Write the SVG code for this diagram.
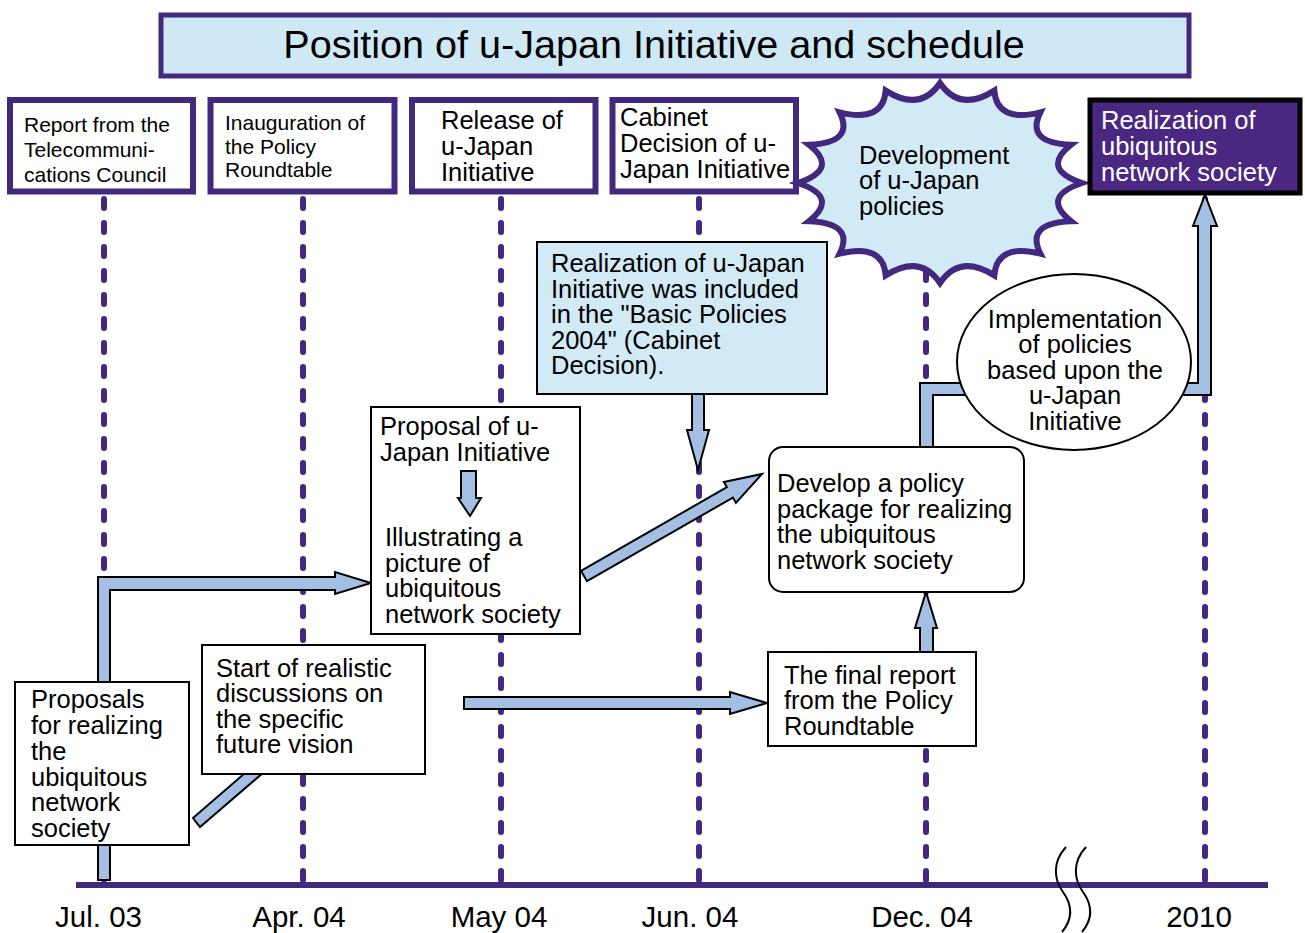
<svg xmlns="http://www.w3.org/2000/svg" width="1305" height="933" viewBox="0 0 1305 933">
<style>
text{font-family:"Liberation Sans",Arial,sans-serif;fill:#000}
.lg{font-size:25.5px}
.sm{font-size:21px}
.dl{font-size:29.5px;text-anchor:middle}
.pbox{fill:#fff;stroke:#43287f;stroke-width:6}
.box{fill:#fff;stroke:#000;stroke-width:2}
.dash{stroke:#43287f;stroke-width:6;stroke-linecap:round;stroke-dasharray:9 15;fill:none}
.arr{fill:#a3c0e4;stroke:#000;stroke-width:2;stroke-linejoin:miter}
.c{text-anchor:middle}
</style>
<rect width="1305" height="933" fill="#fff"/>
<g id="timeline">
<line class="dash" x1="104" y1="199" x2="104" y2="882"/>
<line class="dash" x1="303" y1="199" x2="303" y2="882"/>
<line class="dash" x1="501" y1="199" x2="501" y2="882"/>
<line class="dash" x1="699" y1="199" x2="699" y2="882"/>
<line class="dash" x1="926" y1="199" x2="926" y2="882"/>
<line class="dash" x1="1205" y1="199" x2="1205" y2="882"/>
<line x1="76" y1="885" x2="1268" y2="885" stroke="#43287f" stroke-width="6"/>
<path d="M1066,847 C1052,862 1054,880 1063,892 C1073,906 1072,920 1062,932" fill="none" stroke="#000" stroke-width="2"/>
<path d="M1086,847 C1072,862 1074,880 1083,892 C1093,906 1092,920 1082,932" fill="none" stroke="#000" stroke-width="2"/>
<text class="dl" x="98.5" y="927">Jul. 03</text>
<text class="dl" x="299" y="927">Apr. 04</text>
<text class="dl" x="499" y="927">May 04</text>
<text class="dl" x="690" y="927">Jun. 04</text>
<text class="dl" x="922" y="927">Dec. 04</text>
<text class="dl" x="1199" y="927">2010</text>
</g>
<g id="connectors">
<polygon class="arr" points="98,880 98,577 335,577 335,572 371,583 335,594 335,590 110,590 110,880"/>
<polygon class="arr" points="193,818 260,760 278,760 200,827"/>
<polygon class="arr" points="581,570.8 726.9,487.2 723.9,482 762,474 735.9,502.8 732.9,497.6 587,581.2"/>
<polygon class="arr" points="464,697 730,697 730,692 767,703 730,714 730,709 464,709"/>
<polygon class="arr" points="920,652 920,628 915,628 926,592 937,628 933,628 933,652"/>
<polygon class="arr" points="692,393 692,430 687,430 698,470 709,430 704,430 704,393"/>
<polygon class="arr" points="920,447 920,383 1198,383 1198,226 1193,226 1205,195 1217,226 1211,226 1211,395 933,395 933,447"/>
</g>
<g id="title">
<rect x="161" y="15" width="1028" height="61" fill="#cfe8f6" stroke="#43287f" stroke-width="5"/>
<text x="654" y="58" class="c" style="font-size:39.6px">Position of u-Japan Initiative and schedule</text>
</g>
<g id="n-report">
<rect class="pbox" x="10" y="100" width="183" height="91.5"/>
<text class="sm" x="24" y="132">Report from the</text>
<text class="sm" x="24" y="157">Telecommuni-</text>
<text class="sm" x="24" y="182">cations Council</text>
</g>
<g id="n-inauguration">
<rect class="pbox" x="210.5" y="100" width="184" height="91.5"/>
<text class="sm" x="225" y="130">Inauguration of</text>
<text class="sm" x="225" y="153.5">the Policy</text>
<text class="sm" x="225" y="177">Roundtable</text>
</g>
<g id="n-release">
<rect class="pbox" x="412" y="100" width="183.5" height="91.5"/>
<text class="lg" x="441" y="129">Release of</text>
<text class="lg" x="441" y="155">u-Japan</text>
<text class="lg" x="441" y="181">Initiative</text>
</g>
<g id="n-cabinet">
<rect class="pbox" x="612.5" y="100" width="183.5" height="91.5"/>
<text class="lg" x="620" y="126">Cabinet</text>
<text class="lg" x="620" y="152">Decision of u-</text>
<text class="lg" x="620" y="177.5">Japan Initiative</text>
</g>
<g id="n-development">
<path d="M940,83 Q959.9,112.4 994.3,90.6 Q996.8,123.1 1040.4,112.3 Q1025,143 1071.2,144.7 Q1040.2,169 1082,183 Q1040.2,197 1071.2,221.3 Q1025,223 1040.4,253.7 Q996.8,242.9 994.3,275.4 Q959.9,253.6 940,283 Q920.1,253.6 885.7,275.4 Q883.2,242.9 839.6,253.7 Q855,223 808.8,221.3 Q839.8,197 798,183 Q839.8,169 808.8,144.7 Q855,143 839.6,112.3 Q883.2,123.1 885.7,90.6 Q920.1,112.4 940,83 Z" fill="#d2e9f6" stroke="#43287f" stroke-width="6"/>
<text class="lg" x="859" y="163.5">Development</text>
<text class="lg" x="859" y="189">of u-Japan</text>
<text class="lg" x="859" y="215">policies</text>
</g>
<g id="n-realization">
<rect x="1090" y="100" width="210" height="93" fill="#4a2882" stroke="#000" stroke-width="5"/>
<text class="lg" x="1101" y="128.5" style="fill:#fff">Realization of</text>
<text class="lg" x="1101" y="154.5" style="fill:#fff">ubiquitous</text>
<text class="lg" x="1101" y="180.5" style="fill:#fff">network society</text>
</g>
<g id="n-basic">
<rect x="537" y="242" width="290" height="152" fill="#d2e9f6" stroke="#000" stroke-width="2"/>
<text class="lg" x="551" y="272">Realization of u-Japan</text>
<text class="lg" x="551" y="297.5">Initiative was included</text>
<text class="lg" x="551" y="323">in the "Basic Policies</text>
<text class="lg" x="551" y="348.5">2004" (Cabinet</text>
<text class="lg" x="551" y="374">Decision).</text>
</g>
<g id="n-proposal">
<rect class="box" x="371" y="407" width="209" height="227"/>
<text class="lg" x="380" y="435">Proposal of u-</text>
<text class="lg" x="380" y="460.5">Japan Initiative</text>
<polygon class="arr" points="461,471 461,498 458,498 470,516 481,498 476,498 476,471"/>
<text class="lg" x="385" y="546">Illustrating a</text>
<text class="lg" x="385" y="571.5">picture of</text>
<text class="lg" x="385" y="597">ubiquitous</text>
<text class="lg" x="385" y="622.5">network society</text>
</g>
<g id="n-develop">
<rect class="box" x="769" y="447" width="255" height="145" rx="14"/>
<text class="lg" x="777" y="492">Develop a policy</text>
<text class="lg" x="777" y="517.5">package for realizing</text>
<text class="lg" x="777" y="543">the ubiquitous</text>
<text class="lg" x="777" y="568.5">network society</text>
</g>
<g id="n-final">
<rect class="box" x="768" y="652" width="208" height="94"/>
<text class="lg" x="784" y="683.5">The final report</text>
<text class="lg" x="784" y="709">from the Policy</text>
<text class="lg" x="784" y="734.5">Roundtable</text>
</g>
<g id="n-implementation">
<ellipse cx="1074" cy="362" rx="117" ry="88" fill="#fff" stroke="#000" stroke-width="2"/>
<text class="lg c" x="1075" y="327.5">Implementation</text>
<text class="lg c" x="1075" y="353">of policies</text>
<text class="lg c" x="1075" y="378.5">based upon the</text>
<text class="lg c" x="1075" y="404">u-Japan</text>
<text class="lg c" x="1075" y="429.5">Initiative</text>
</g>
<g id="n-proposals">
<rect class="box" x="15" y="682" width="174" height="163"/>
<text class="lg" x="31" y="708">Proposals</text>
<text class="lg" x="31" y="734">for realizing</text>
<text class="lg" x="31" y="760">the</text>
<text class="lg" x="31" y="785.5">ubiquitous</text>
<text class="lg" x="31" y="811">network</text>
<text class="lg" x="31" y="837">society</text>
</g>
<g id="n-start">
<rect class="box" x="202" y="645" width="223" height="129"/>
<text class="lg" x="216" y="677">Start of realistic</text>
<text class="lg" x="216" y="702">discussions on</text>
<text class="lg" x="216" y="727.5">the specific</text>
<text class="lg" x="216" y="753">future vision</text>
</g>
</svg>
